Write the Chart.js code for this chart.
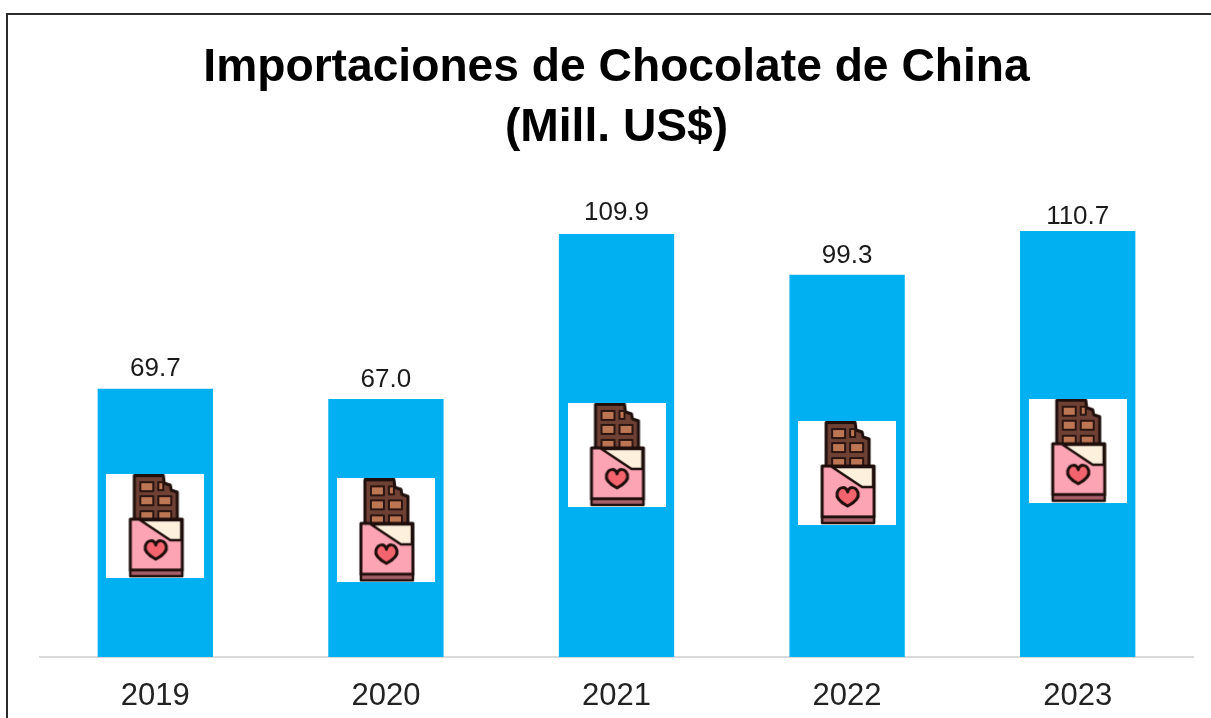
<!DOCTYPE html>
<html>
<head>
<meta charset="utf-8">
<style>
  html, body { margin: 0; padding: 0; background: #fff; overflow: hidden; }
  #wrap { width: 1211px; height: 718px; }
</style>
<script src="https://cdn.jsdelivr.net/npm/chart.js@4"></script>
</head>
<body>
<div id="wrap"><canvas id="chocolate"></canvas></div>
<script>
// ---------- data ----------
const years = ["2019", "2020", "2021", "2022", "2023"];
const imports = [69.7, 67.0, 109.9, 99.3, 110.7];
// height on the value axis where each bar's icon sits
const iconLevels = [34.0, 32.9, 52.5, 47.8, 53.6];
const titleLines = ["Importaciones de Chocolate de China", "(Mill. US$)"];

// ---------- chocolate bar icon, drawn once on its own canvas ----------
function makeIcon() {
  const c = document.createElement("canvas");
  c.width = 98;
  c.height = 104;
  const g = c.getContext("2d");
  g.fillStyle = "#fff";
  g.fillRect(0, 0, 98, 104);
  g.lineJoin = "round";
  g.lineCap = "round";
  g.strokeStyle = "#1f0f0c";

  // chocolate
  g.lineWidth = 3;
  g.fillStyle = "#6f4134";
  g.beginPath();
  g.moveTo(28, 1.5);
  g.lineTo(57, 1.5);
  g.lineTo(58, 9);
  g.lineTo(64, 11);
  g.lineTo(65, 16);
  g.lineTo(71, 18);
  g.lineTo(71, 46);
  g.lineTo(28, 46);
  g.closePath();
  g.fill();
  g.stroke();

  // squares
  const cols = [34, 52];
  const rows = [8, 22, 37];
  g.lineWidth = 2;
  g.strokeStyle = "#2a1512";
  g.fillStyle = "#bd7653";
  rows.forEach((y) => {
    cols.forEach((x, i) => {
      if (y === 8 && i === 1) return;
      g.fillRect(x, y, 13, 9);
      g.strokeRect(x, y, 13, 9);
    });
  });
  g.fillRect(52, 8, 5, 8);
  g.strokeRect(52, 8, 5, 8);

  // wrapper
  g.strokeStyle = "#1f0f0c";
  g.lineWidth = 3;
  g.fillStyle = "#fca3b4";
  g.fillRect(24, 45, 52, 51);
  g.strokeRect(24, 45, 52, 51);

  // torn flap
  g.fillStyle = "#fdf1de";
  g.lineWidth = 2.5;
  g.beginPath();
  g.moveTo(34, 46);
  g.lineTo(75, 46);
  g.lineTo(75, 66);
  g.lineTo(64, 66);
  g.closePath();
  g.fill();
  g.stroke();

  // strip along the bottom
  g.lineWidth = 2.5;
  g.fillStyle = "#a8606a";
  g.fillRect(24, 96, 52, 6);
  g.strokeRect(24, 96, 52, 6);

  // heart
  g.fillStyle = "#f4646e";
  g.lineWidth = 3;
  g.beginPath();
  g.moveTo(49.5, 85);
  g.bezierCurveTo(42, 81, 38, 76, 39, 72);
  g.bezierCurveTo(41, 65, 48, 65, 49.5, 71);
  g.bezierCurveTo(51, 65, 58, 65, 60, 72);
  g.bezierCurveTo(61, 76, 57, 81, 49.5, 85);
  g.closePath();
  g.fill();
  g.stroke();
  return c;
}

// ---------- plugins ----------
const frame = {
  id: "frame",
  beforeDraw(chart) {
    const { ctx, width, height } = chart;
    ctx.save();
    ctx.strokeStyle = "#2b2b2b";
    ctx.lineWidth = 2;
    ctx.beginPath();
    ctx.moveTo(7, height);
    ctx.lineTo(7, 14);
    ctx.lineTo(width, 14);
    ctx.stroke();
    ctx.restore();
  },
};

const barValues = {
  id: "barValues",
  afterDatasetsDraw(chart) {
    const { ctx } = chart;
    // labels were nudged by hand, the last one sits closer to its bar
    const lift = [13, 12, 14, 12, 7];
    ctx.save();
    ctx.font = "26px 'Liberation Sans'";
    ctx.textAlign = "center";
    ctx.textBaseline = "alphabetic";
    ctx.fillStyle = "#1a1a1a";
    chart.getDatasetMeta(0).data.forEach((bar, i) => {
      ctx.fillText(imports[i].toFixed(1), bar.x, bar.y - lift[i]);
    });
    ctx.restore();
  },
};

// ---------- chart ----------
const config = {
  type: "bar",
  data: {
    labels: years,
    datasets: [
      {
        data: imports,
        backgroundColor: "#00b0f0",
        barPercentage: 0.5,
        categoryPercentage: 1,
        order: 2,
      },
      {
        type: "line",
        data: iconLevels,
        showLine: false,
        pointStyle: makeIcon(),
        order: 1,
      },
    ],
  },
  options: {
    responsive: false,
    animation: false,
    layout: { padding: { left: 40, right: 18, top: 38, bottom: 0 } },
    plugins: {
      legend: { display: false },
      tooltip: { enabled: false },
      title: {
        display: true,
        text: titleLines,
        fullSize: false,
        color: "#000",
        font: { family: "'Liberation Sans'", size: 46.2, weight: "bold", lineHeight: 1.3 },
        padding: { top: 0, bottom: 37 },
      },
    },
    scales: {
      x: {
        grid: { display: false, drawTicks: false },
        border: { color: "#d9d9d9", width: 2 },
        ticks: { color: "#222", font: { family: "'Liberation Sans'", size: 31 }, padding: 21, maxRotation: 0 },
        afterFit(scale) { scale.height = 61; },
      },
      y: { display: false, min: 0, max: 120 },
    },
  },
  plugins: [frame, barValues],
};

const canvas = document.getElementById("chocolate");
canvas.width = 1211;
canvas.height = 718;
new Chart(canvas, config);
</script>
</body>
</html>
